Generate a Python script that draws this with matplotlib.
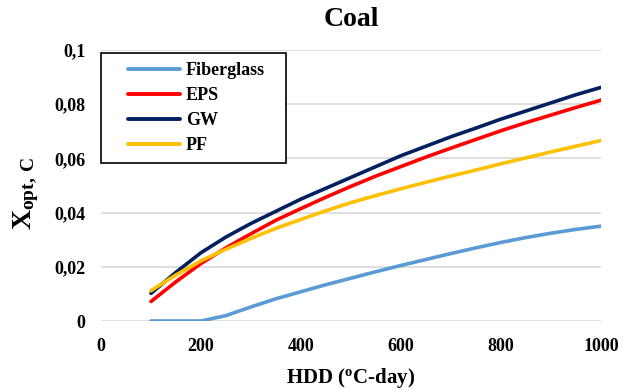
import matplotlib
matplotlib.use("Agg")
import matplotlib.pyplot as plt
from matplotlib.ticker import FixedLocator, FixedFormatter

hdd = [100, 150, 200, 250, 300, 350, 400, 450, 500, 550,
       600, 650, 700, 750, 800, 850, 900, 950, 1000]

fiberglass = [0.0, 0.0, 0.0, 0.002, 0.0052, 0.0082, 0.0108, 0.0134, 0.0158, 0.0182,
              0.0205, 0.0227, 0.0249, 0.027, 0.029, 0.0308, 0.0324, 0.0338, 0.035]
eps = [0.0072, 0.0145, 0.0212, 0.027, 0.0322, 0.0372, 0.0415, 0.0457, 0.0497, 0.0535,
       0.057, 0.0605, 0.0638, 0.067, 0.0702, 0.0732, 0.076, 0.0788, 0.0815]
gw = [0.0102, 0.018, 0.0252, 0.031, 0.036, 0.0405, 0.045, 0.049, 0.053, 0.057,
      0.061, 0.0645, 0.068, 0.0712, 0.0745, 0.0775, 0.0805, 0.0835, 0.0862]
pf = [0.0112, 0.017, 0.0222, 0.0265, 0.0305, 0.0342, 0.0375, 0.0407, 0.0437, 0.0463,
      0.0488, 0.0512, 0.0535, 0.0557, 0.058, 0.0602, 0.0624, 0.0645, 0.0666]

series_names = ["Fiberglass", "EPS", "GW", "PF"]
series_values = [fiberglass, eps, gw, pf]
series_colors = ["#5B9BD5", "#FF0000", "#002060", "#FFC000"]

x_ticks = [0, 200, 400, 600, 800, 1000]
y_ticks = [0, 0.02, 0.04, 0.06, 0.08, 0.1]
y_tick_labels = ["0", "0,02", "0,04", "0,06", "0,08", "0,1"]

plt.rcParams["font.family"] = ["Liberation Serif", "DejaVu Serif"]
plt.rcParams["font.weight"] = "bold"
plt.rcParams["mathtext.fontset"] = "custom"
plt.rcParams["mathtext.rm"] = "Liberation Serif:bold"
plt.rcParams["mathtext.bf"] = "Liberation Serif:bold"
plt.rcParams["mathtext.it"] = "Liberation Serif:bold"

fig = plt.figure(figsize=(6.22, 3.90), dpi=100)
ax = fig.add_axes([101 / 622, 1 - 321 / 390, 500 / 622, 271 / 390])

for name, vals, col in zip(series_names, series_values, series_colors):
    ax.plot(hdd, vals, color=col, lw=2.6, label=name,
            solid_capstyle="round", solid_joinstyle="round")

ax.set_xlim(0, 1000)
ax.set_ylim(0, 0.1)
ax.xaxis.set_major_locator(FixedLocator(x_ticks))
ax.yaxis.set_major_locator(FixedLocator(y_ticks))
ax.yaxis.set_major_formatter(FixedFormatter(y_tick_labels))
ax.tick_params(axis="y", length=0, labelsize=13, pad=11)
ax.tick_params(axis="x", length=0, labelsize=13, pad=12)
for lab in ax.get_xticklabels() + ax.get_yticklabels():
    lab.set_fontweight("bold")

ax.grid(axis="y", color="#d9d9d9", lw=1.2)
ax.set_axisbelow(True)
for s in ax.spines.values():
    s.set_visible(False)

ax.set_title("Coal", fontsize=20, fontweight="bold", pad=17)
ax.set_xlabel(r"HDD ($^{\mathrm{o}}$C-day)", fontsize=15, fontweight="bold", labelpad=8)
ax.set_ylabel(r"$\mathrm{X}_{\mathrm{opt,\,C}}$", fontsize=20, labelpad=10)
ax.yaxis.label.set_y(0.47)

leg = ax.legend(loc="upper left", bbox_to_anchor=(0.0, 0.0, 185 / 500, 0.989),
                mode="expand", frameon=True, fancybox=False, edgecolor="black",
                framealpha=1,
                prop={"family": "Liberation Serif", "weight": "bold", "size": 13},
                handlelength=3.9, handletextpad=0.3, labelspacing=0.45,
                borderpad=0.5, borderaxespad=0.0)
leg.get_frame().set_linewidth(1.2)
for line in leg.get_lines():
    line.set_linewidth(2.8)
    xd = list(line.get_xdata())
    yd = list(line.get_ydata())
    x0, x1 = min(xd), max(xd)
    line.set_data([x0 + 0.25 * (x1 - x0), x1], [yd[0], yd[0]])

fig.savefig("out.png", dpi=100)
